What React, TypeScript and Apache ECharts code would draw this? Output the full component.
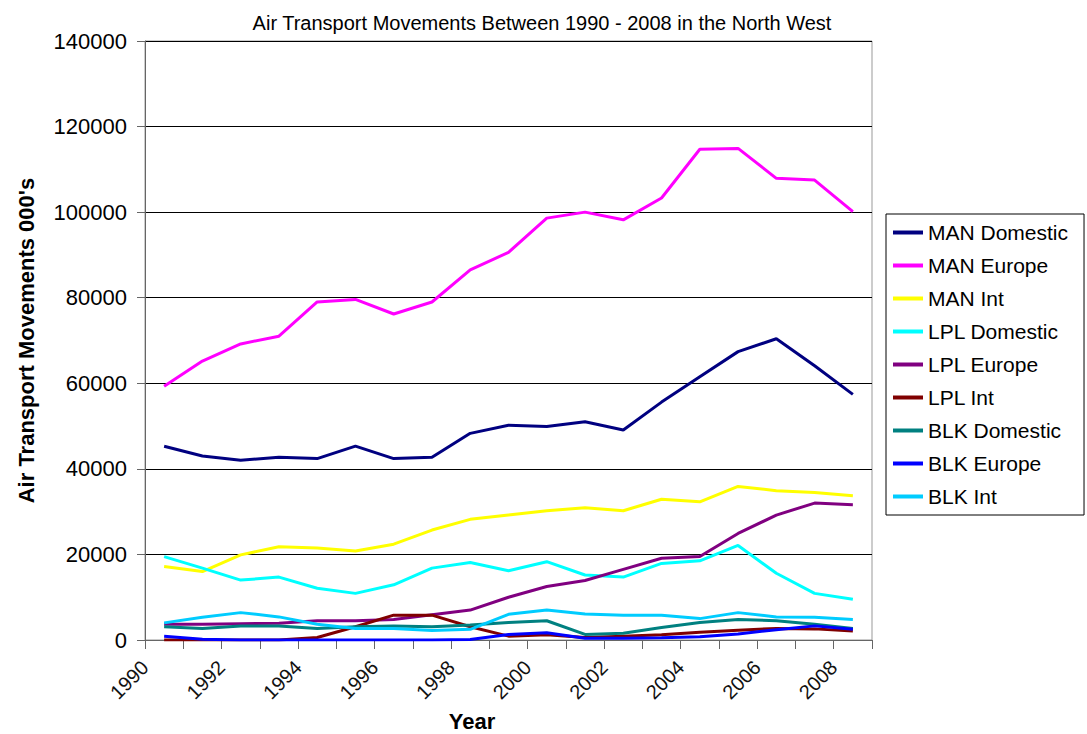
import React, { useEffect, useRef } from "react";
import * as echarts from "echarts";

const years = [1990, 1991, 1992, 1993, 1994, 1995, 1996, 1997, 1998, 1999, 2000, 2001, 2002, 2003, 2004, 2005, 2006, 2007, 2008];

const seriesNames = ["MAN Domestic", "MAN Europe", "MAN Int", "LPL Domestic", "LPL Europe", "LPL Int", "BLK Domestic", "BLK Europe", "BLK Int"];
const seriesColors = ["#000080", "#FF00FF", "#FFFF00", "#00FFFF", "#800080", "#800000", "#008080", "#0000FF", "#00CCFF"];

const manDomestic = [45300, 43000, 42000, 42700, 42400, 45300, 42400, 42700, 48300, 50200, 49900, 51000, 49100, 55600, 61500, 67400, 70400, 64100, 57400];
const manEurope = [59300, 65200, 69200, 71000, 79000, 79600, 76200, 79000, 86500, 90600, 98600, 100000, 98200, 103300, 114700, 114900, 107900, 107500, 100100];
const manInt = [17200, 16000, 19900, 21800, 21500, 20800, 22400, 25700, 28200, 29200, 30200, 30900, 30200, 32900, 32300, 35900, 34900, 34500, 33700];
const lplDomestic = [19500, 16800, 14000, 14700, 12100, 10900, 12900, 16800, 18100, 16200, 18300, 15200, 14700, 17900, 18500, 22100, 15600, 10900, 9500];
const lplEurope = [3700, 3700, 3800, 3900, 4500, 4500, 4800, 5900, 7000, 10000, 12500, 13900, 16500, 19100, 19500, 24900, 29200, 32000, 31600];
const lplInt = [0, 0, 0, 0, 600, 3100, 5800, 5800, 3100, 900, 1200, 600, 900, 1200, 1800, 2300, 2700, 2600, 2100];
const blkDomestic = [3100, 2700, 3300, 3300, 2700, 3100, 3300, 3100, 3500, 4100, 4500, 1300, 1600, 2900, 4100, 4800, 4500, 3700, 2700];
const blkEurope = [900, 150, 0, 0, 0, 0, 0, 0, 100, 1300, 1700, 400, 400, 500, 750, 1400, 2400, 3300, 2500];
const blkInt = [4000, 5300, 6400, 5400, 3700, 2700, 2700, 2200, 2500, 6000, 7000, 6100, 5800, 5800, 5000, 6400, 5400, 5300, 4800];

const allSeries = [manDomestic, manEurope, manInt, lplDomestic, lplEurope, lplInt, blkDomestic, blkEurope, blkInt];

const FONT = "Liberation Sans, Arial, sans-serif";

export default function App() {
  const ref = useRef<HTMLDivElement>(null);
  useEffect(() => {
    document.body.style.margin = "0";
    const chart = echarts.init(ref.current!, null, { renderer: "svg" });
    chart.setOption({
      animation: false,
      backgroundColor: "#ffffff",
      title: {
        text: "Air Transport Movements Between 1990 - 2008 in the North West",
        left: 537,
        textAlign: "center",
        top: 8,
        textStyle: { fontFamily: FONT, fontSize: 20, fontWeight: "normal", color: "#000" },
      },
      legend: {
        orient: "vertical",
        left: 886,
        top: 214,
        padding: [8, 16, 8, 7],
        itemWidth: 30,
        itemHeight: 4,
        itemGap: 12,
        icon: "rect",
        borderColor: "#000",
        borderWidth: 1,
        textStyle: { fontFamily: FONT, fontSize: 21, color: "#000", lineHeight: 21 },
        data: seriesNames,
      },
      grid: {
        left: 145,
        right: 215,
        top: 41,
        bottom: 94,
        show: true,
        borderColor: "#999",
        borderWidth: 1,
        backgroundColor: "#fff",
      },
      xAxis: {
        type: "value",
        min: 1990,
        max: 2009,
        interval: 1,
        axisLine: { show: true, lineStyle: { color: "#666", width: 1 } },
        axisTick: { show: true, length: 9, lineStyle: { color: "#666" } },
        splitLine: { show: false },
        axisLabel: {
          rotate: 45,
          margin: 24,
          fontFamily: FONT,
          fontSize: 20,
          color: "#111",
          formatter: (v: number) => (v % 2 === 0 && v <= 2008 ? String(v) : ""),
        },
      },
      yAxis: {
        type: "value",
        min: 0,
        max: 140000,
        interval: 20000,
        name: "Air Transport Movements 000's",
        nameLocation: "middle",
        nameGap: 108,
        nameTextStyle: { fontFamily: FONT, fontSize: 22, fontWeight: "bold", color: "#000" },
        axisLine: { show: true, lineStyle: { color: "#666", width: 1 } },
        axisTick: { show: true, length: 8, lineStyle: { color: "#666" } },
        splitLine: { show: true, lineStyle: { color: "#000", width: 1 } },
        axisLabel: {
          margin: 18,
          fontFamily: FONT,
          fontSize: 22,
          color: "#000",
          formatter: (v: number) => String(v),
        },
      },
      graphic: [
        {
          type: "text",
          x: 472,
          y: 710,
          style: {
            text: "Year",
            fontFamily: FONT,
            fontSize: 22,
            fontWeight: "bold",
            fill: "#000",
            align: "center",
            verticalAlign: "top",
          },
        },
      ],
      series: seriesNames.map((name, i) => ({
        name,
        type: "line",
        symbol: "none",
        color: seriesColors[i],
        lineStyle: { width: 3, color: seriesColors[i] },
        data: allSeries[i].map((v, j) => [years[j] + 0.5, v]),
      })),
    });
    return () => chart.dispose();
  }, []);
  return <div ref={ref} style={{ width: 1087, height: 734 }} />;
}
